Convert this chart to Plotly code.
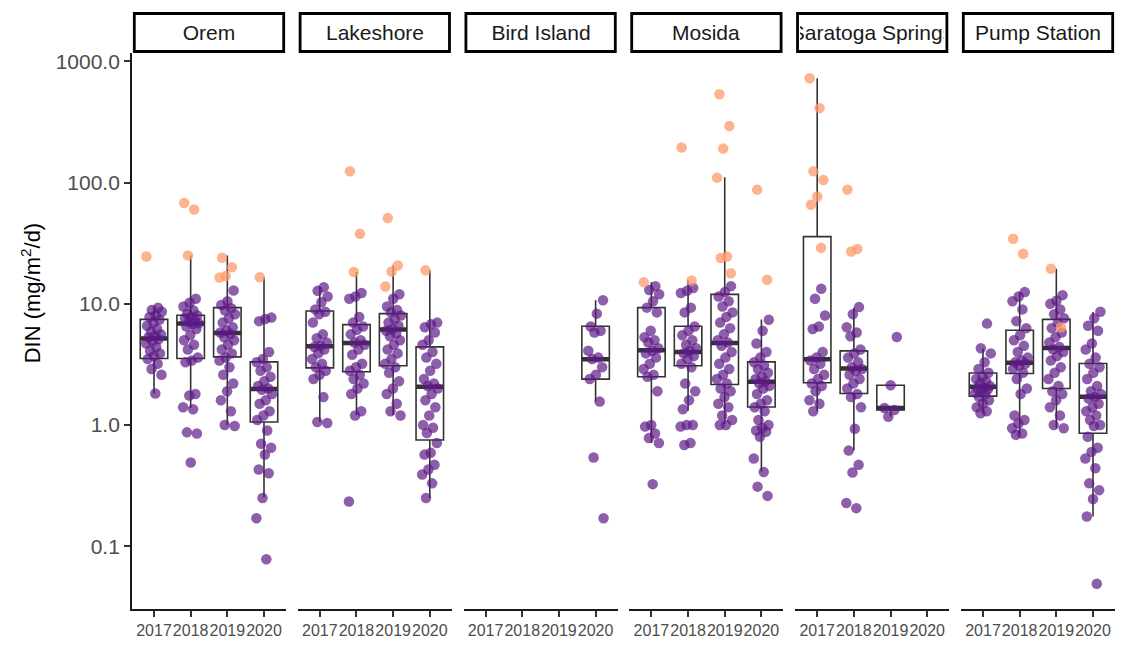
import plotly.graph_objects as go

sites = ["Orem", "Lakeshore", "Bird Island", "Mosida", "Saratoga Springs", "Pump Station"]
years = ["2017", "2018", "2019", "2020"]

# DIN (mg/m2/d) per site, one list per year 2017-2020.
# "routine" samples are purple, "flagged" samples orange.
orem_routine = [
    [9.3, 8.9, 8.6, 8.0, 7.8, 7.4, 7.0, 6.6, 6.2, 5.9, 5.6, 5.4, 5.3, 5.1, 4.9, 4.7, 4.4, 4.1, 3.9, 3.7, 3.5, 3.2, 2.9, 2.6, 1.82],
    [11.0, 10.2, 9.5, 8.8, 8.3, 8.0, 7.8, 7.6, 7.3, 7.1, 6.9, 6.8, 6.5, 6.2, 5.5, 5.0, 4.6, 4.2, 3.6, 3.4, 3.3, 1.8, 1.75, 1.4, 1.35, 0.87, 0.85, 0.49],
    [12.9, 10.5, 9.8, 9.2, 8.8, 8.2, 7.6, 7.0, 6.4, 6.0, 5.8, 5.6, 5.3, 5.0, 4.6, 4.2, 3.9, 3.6, 3.4, 3.0, 2.6, 2.2, 1.9, 1.6, 1.3, 1.0, 0.98],
    [7.7, 7.5, 7.2, 4.0, 3.5, 3.3, 3.0, 2.8, 2.5, 2.3, 2.1, 2.0, 1.95, 1.8, 1.6, 1.5, 1.3, 1.2, 1.1, 0.9, 0.7, 0.65, 0.57, 0.43, 0.40, 0.25, 0.17, 0.078],
]
orem_flagged = [[24.6], [68.0, 60.0, 25.1], [24.0, 20.0, 17.0, 16.5], [16.6]]

lakeshore_routine = [
    [13.7, 12.8, 11.5, 10.3, 9.0, 8.6, 8.2, 7.0, 5.6, 5.2, 4.8, 4.5, 4.4, 4.2, 3.9, 3.5, 3.2, 3.0, 2.8, 2.6, 2.4, 1.7, 1.06, 1.04],
    [12.3, 11.5, 11.0, 7.8, 7.0, 6.5, 6.1, 5.6, 5.0, 4.8, 4.6, 4.2, 3.8, 3.2, 3.0, 2.8, 2.6, 2.4, 2.2, 2.0, 1.8, 1.3, 1.2, 0.234],
    [12.0, 11.0, 9.5, 8.9, 8.5, 8.0, 7.5, 7.0, 6.6, 6.2, 6.0, 5.7, 5.4, 5.0, 4.6, 4.2, 3.9, 3.5, 3.2, 3.0, 2.7, 2.3, 2.0, 1.8, 1.5, 1.3, 1.2],
    [7.0, 6.8, 6.4, 5.8, 5.0, 4.6, 4.0, 3.6, 3.2, 2.8, 2.4, 2.2, 2.1, 2.0, 1.8, 1.6, 1.4, 1.2, 1.0, 0.95, 0.86, 0.71, 0.59, 0.57, 0.47, 0.43, 0.39, 0.33, 0.25],
]
lakeshore_flagged = [[], [124.0, 37.8, 18.3], [51.0, 20.7, 18.5, 13.9], [18.9]]

bird_island_routine = [
    [], [], [],
    [10.7, 8.3, 6.5, 6.0, 5.8, 4.1, 3.6, 3.5, 3.0, 2.6, 2.4, 1.56, 0.54, 0.17],
]
bird_island_flagged = [[], [], [], []]

mosida_routine = [
    [14.0, 13.0, 12.0, 10.5, 9.3, 8.5, 6.0, 5.3, 5.0, 4.8, 4.3, 4.1, 3.9, 3.6, 3.2, 2.9, 2.6, 2.5, 1.9, 1.0, 0.97, 0.85, 0.78, 0.71, 0.325],
    [13.5, 12.8, 12.3, 9.3, 8.5, 6.5, 6.0, 5.5, 5.0, 4.6, 4.3, 4.1, 3.9, 3.7, 3.5, 3.2, 3.0, 2.2, 1.9, 1.6, 1.35, 1.0, 1.0, 0.97, 0.71, 0.685],
    [14.0, 12.5, 11.5, 10.5, 9.5, 8.5, 7.8, 7.0, 6.3, 5.6, 5.0, 4.8, 4.5, 4.0, 3.6, 3.2, 2.9, 2.6, 2.4, 2.2, 2.0, 1.9, 1.7, 1.5, 1.4, 1.2, 1.1, 1.0, 1.0],
    [7.4, 6.0, 4.7, 4.0, 3.6, 3.3, 3.1, 2.9, 2.7, 2.5, 2.4, 2.3, 2.2, 2.1, 2.0, 1.8, 1.6, 1.5, 1.4, 1.3, 1.1, 1.0, 0.95, 0.9, 0.88, 0.8, 0.53, 0.41, 0.31, 0.26],
]
mosida_flagged = [[15.1], [195.0, 15.6], [537.0, 294.0, 191.0, 110.0, 24.6, 23.9, 17.9], [87.6, 15.8]]

saratoga_routine = [
    [13.3, 11.0, 8.0, 6.5, 6.2, 4.0, 3.6, 3.4, 3.2, 2.9, 2.6, 2.4, 2.2, 2.1, 1.9, 1.6, 1.5, 1.3],
    [9.4, 8.2, 6.4, 5.8, 5.4, 4.2, 3.9, 3.6, 3.3, 3.0, 2.9, 2.8, 2.6, 2.4, 2.2, 2.0, 1.8, 1.7, 1.4, 0.93, 0.615, 0.469, 0.405, 0.227, 0.206],
    [5.33, 2.13, 1.38, 1.33, 1.17],
    [],
]
saratoga_flagged = [[727.0, 412.0, 124.0, 105.0, 76.8, 65.7, 29.0], [87.6, 28.4, 27.0], [], []]

pump_station_routine = [
    [6.87, 4.3, 3.9, 3.3, 2.9, 2.7, 2.5, 2.4, 2.3, 2.2, 2.1, 2.05, 2.0, 1.95, 1.9, 1.85, 1.8, 1.7, 1.6, 1.5, 1.4, 1.3, 1.25],
    [12.5, 11.5, 10.5, 9.0, 7.2, 6.3, 5.5, 5.0, 4.5, 4.0, 3.6, 3.4, 3.3, 3.2, 3.1, 2.9, 2.7, 2.4, 2.0, 1.8, 1.2, 1.1, 1.03, 0.94, 0.85, 0.83],
    [11.8, 10.6, 10.0, 9.0, 8.2, 7.6, 7.0, 6.3, 5.8, 5.3, 4.8, 4.4, 4.2, 4.0, 3.7, 3.4, 3.0, 2.7, 2.4, 2.1, 1.9, 1.8, 1.6, 1.4, 1.2, 1.0, 0.94],
    [8.6, 7.6, 6.6, 6.0, 4.7, 4.2, 3.6, 3.2, 3.0, 2.7, 2.4, 2.1, 1.9, 1.8, 1.7, 1.65, 1.5, 1.4, 1.3, 1.2, 1.1, 1.0, 0.98, 0.8, 0.65, 0.6, 0.53, 0.44, 0.33, 0.29, 0.245, 0.176, 0.049],
]
pump_station_flagged = [[], [34.4, 25.9], [19.5, 6.4], []]

routine = [orem_routine, lakeshore_routine, bird_island_routine,
           mosida_routine, saratoga_routine, pump_station_routine]
flagged = [orem_flagged, lakeshore_flagged, bird_island_flagged,
           mosida_flagged, saratoga_flagged, pump_station_flagged]

# Box summaries (log-scale quartiles and whisker ends), per site and year
box_q1 = [
    [3.54, 3.54, 3.65, 1.06],
    [2.96, 2.75, 3.08, 0.753],
    [None, None, None, 2.39],
    [2.5, 3.08, 2.16, 1.41],
    [2.23, 1.82, 1.33, None],
    [1.73, 2.66, 2.0, 0.854],
]
box_median = [
    [5.17, 6.87, 5.75, 1.98],
    [4.47, 4.76, 6.13, 2.07],
    [None, None, None, 3.49],
    [4.14, 4.01, 4.76, 2.27],
    [3.49, 2.93, 1.38, None],
    [2.07, 3.26, 4.33, 1.71],
]
box_q3 = [
    [7.45, 8.04, 9.3, 3.32],
    [8.73, 6.74, 8.3, 4.41],
    [None, None, None, 6.53],
    [9.3, 6.53, 11.97, 3.32],
    [35.9, 4.09, 2.13, None],
    [2.69, 6.05, 7.45, 3.22],
]
whisker_low = [
    [1.82, 1.38, 1.0, 0.254],
    [1.06, 1.21, 1.21, 0.249],
    [None, None, None, 1.56],
    [0.71, 1.31, 1.02, 0.413],
    [1.29, 0.615, 1.17, None],
    [1.25, 0.854, 0.94, 0.176],
]
whisker_high = [
    [9.3, 25.1, 25.0, 16.6],
    [13.7, 18.3, 20.7, 18.9],
    [None, None, None, 10.7],
    [15.1, 15.6, 110.6, 7.41],
    [727.0, 9.3, 2.13, None],
    [4.28, 12.5, 19.5, 8.56],
]

y_tick_vals = [0.1, 1, 10, 100, 1000]
y_tick_text = ["0.1", "1.0", "10.0", "100.0", "1000.0"]

PURPLE = "rgba(92, 26, 134, 0.70)"
ORANGE = "rgba(253, 154, 106, 0.75)"
BOX_LINE = "#333333"
FONT = "Liberation Sans, Arial, sans-serif"

# page geometry (px)
W, H = 1124, 645
L, R, T, B = 132, 9, 52.5, 36.2
plot_w = W - L - R
plot_h = H - T - B
panel_step = 165.8
panel_w = 154.0


def jitter(n, phase, spread=0.22):
    # deterministic low-discrepancy horizontal offsets
    return [(((k + 1) * 0.618034 + phase) % 1.0 - 0.5) * 2 * spread for k in range(n)]


fig = go.Figure()

for i, site in enumerate(sites):
    xa = "x" if i == 0 else f"x{i + 1}"

    # boxes
    pos, q1, med, q3, lo, hi = [], [], [], [], [], []
    for j in range(len(years)):
        if box_median[i][j] is None:
            continue
        pos.append(j)
        q1.append(box_q1[i][j])
        med.append(box_median[i][j])
        q3.append(box_q3[i][j])
        lo.append(whisker_low[i][j])
        hi.append(whisker_high[i][j])
    fig.add_trace(go.Box(
        x=pos, q1=q1, median=med, q3=q3, lowerfence=lo, upperfence=hi,
        width=0.75, whiskerwidth=0, boxpoints=False,
        line=dict(color=BOX_LINE, width=1.6), fillcolor="rgba(0,0,0,0)",
        xaxis=xa, yaxis="y", showlegend=False, hoverinfo="skip",
    ))
    # thick median bars
    fig.add_trace(go.Box(
        x=pos, q1=med, median=med, q3=med, lowerfence=med, upperfence=med,
        width=0.75, whiskerwidth=0, boxpoints=False,
        line=dict(color=BOX_LINE, width=4.5), fillcolor="rgba(0,0,0,0)",
        xaxis=xa, yaxis="y", showlegend=False, hoverinfo="skip",
    ))

    # jittered samples
    for vals_by_year, color, phase in ((routine[i], PURPLE, 0.13), (flagged[i], ORANGE, 0.41)):
        xs, ys = [], []
        for j, vals in enumerate(vals_by_year):
            offs = jitter(len(vals), phase + 0.07 * j)
            xs += [j + o for o in offs]
            ys += vals
        if xs:
            fig.add_trace(go.Scatter(
                x=xs, y=ys, mode="markers",
                marker=dict(color=color, size=10.5, line=dict(width=0)),
                xaxis=xa, yaxis="y", showlegend=False, hoverinfo="skip",
            ))

    x0 = (i * panel_step) / plot_w
    x1 = (i * panel_step + panel_w) / plot_w
    axis_key = "xaxis" if i == 0 else f"xaxis{i + 1}"
    fig.layout[axis_key] = dict(
        domain=[x0, x1], anchor="y", range=[-0.6, 3.6],
        tickmode="array", tickvals=[0, 1, 2, 3], ticktext=years, tickangle=0,
        showline=True, linecolor="#1a1a1a", linewidth=1.8,
        ticks="outside", ticklen=6, tickwidth=1.5, tickcolor="#333333",
        tickfont=dict(family=FONT, size=16, color="#4d4d4d"),
        showgrid=False, zeroline=False, automargin=False,
    )

    # facet strip
    strip_bottom = 1 + (T - 51.0) / plot_h
    strip_top = 1 + (T - 13.0) / plot_h
    dom = f"{'x' if i == 0 else 'x' + str(i + 1)} domain"
    fig.add_shape(
        type="rect", xref=dom, yref="paper",
        x0=0.015, x1=0.985, y0=strip_bottom, y1=strip_top,
        line=dict(color="black", width=2.8), fillcolor="white",
    )
    fig.add_annotation(
        xref=dom, yref="paper",
        x=0.5, y=(strip_bottom + strip_top) / 2, xanchor="center", yanchor="middle",
        text=site, showarrow=False, width=panel_w - 10, align="center",
        font=dict(family=FONT, size=21, color="#1a1a1a"),
    )

fig.update_layout(
    width=W, height=H,
    margin=dict(l=L, r=R, t=T, b=B, pad=0, autoexpand=False),
    paper_bgcolor="white", plot_bgcolor="white",
    yaxis=dict(
        type="log", range=[-1.5184, 3.0701], anchor="x",
        tickmode="array", tickvals=y_tick_vals, ticktext=y_tick_text,
        showline=True, linecolor="#1a1a1a", linewidth=1.8,
        ticks="outside", ticklen=6, tickwidth=1.5, tickcolor="#333333",
        tickfont=dict(family=FONT, size=21, color="#4d4d4d"),
        showgrid=False, zeroline=False, automargin=False,
    ),
)

fig.add_annotation(
    xref="paper", yref="paper",
    x=(31 - L) / plot_w, y=(H - B - 293) / plot_h,
    xanchor="center", yanchor="middle", textangle=-90,
    text="DIN (mg/m<sup>2</sup>/d)", showarrow=False,
    font=dict(family=FONT, size=22, color="black"),
)

fig.write_html("out.html")
